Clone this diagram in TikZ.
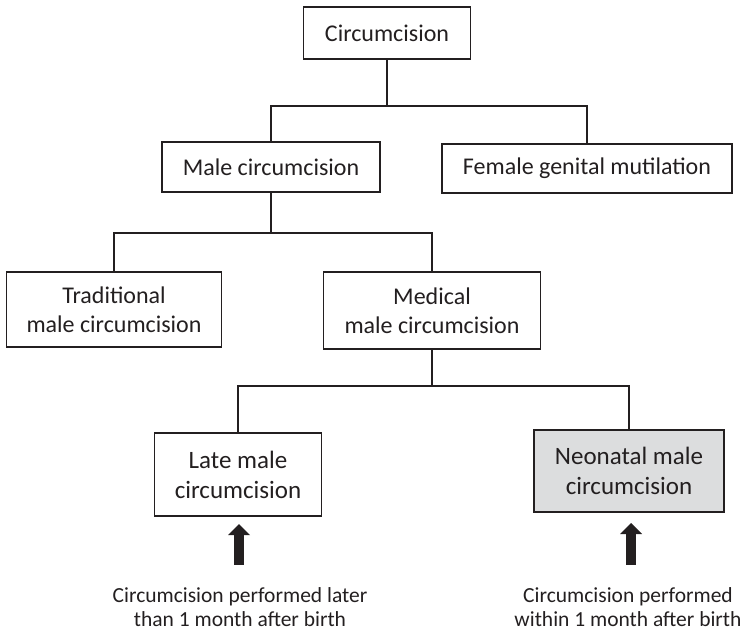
\documentclass[tikz,border=0pt]{standalone}
\usepackage{fontspec}
\setmainfont{Carlito}
\definecolor{ink}{HTML}{231F20}
\definecolor{boxgray}{HTML}{DCDDDE}
\begin{document}
\begin{tikzpicture}[x=1pt,y=-1pt,
  box/.style={draw=ink,line width=1.4pt,text=ink,align=center,inner sep=0pt,
    font=\fontsize{24}{29}\selectfont},
  bigbox/.style={box,font=\fontsize{25}{30}\selectfont},
  note/.style={text=ink,align=center,inner sep=0pt,font=\fontsize{21.5}{24}\selectfont},
  link/.style={draw=ink,line width=1.4pt}]
\useasboundingbox (0,0) rectangle (744,632);
\node[box,minimum width=167pt,minimum height=52pt] (top) at (387,33) {Circumcision};
\node[box,minimum width=218pt,minimum height=50pt] (male) at (271,167) {Male circumcision};
\node[box,minimum width=290pt,minimum height=49pt] (female) at (587,168.5) {Female genital mutilation};
\node[box,minimum width=215pt,minimum height=75pt] (trad) at (114,309.5) {Traditional\\male circumcision};
\node[box,minimum width=217pt,minimum height=77pt] (med) at (432,310.5) {Medical\\male circumcision};
\node[bigbox,minimum width=167pt,minimum height=83pt] (late) at (238,474.5) {Late male\\circumcision};
\node[bigbox,fill=boxgray,minimum width=190pt,minimum height=82pt] (neo) at (629,471) {Neonatal male\\circumcision};
\node[note] (lnote) at (240,607) {Circumcision performed later\\than 1 month after birth};
\node[note] (rnote) at (628,607) {Circumcision performed\\within 1 month after birth};
\coordinate (j1) at (387,106);
\coordinate (j2) at (271,233);
\coordinate (j3) at (432,386);
\draw[link] (top.south) -- (j1);
\draw[link] (male.north) |- (j1) -| (female.north);
\draw[link] (male.south) -- (j2);
\draw[link] (trad.north) |- (j2) -| (med.north);
\draw[link] (med.south) -- (j3);
\draw[link] (late.north) |- (j3) -| (neo.north);
\coordinate (a1b) at (239,565);
\coordinate (a1t) at (239,524);
\coordinate (a2b) at (631,565);
\coordinate (a2t) at (631,523);
\fill[ink] (a1b) ++(-5,0) rectangle ++(10,-32);
\fill[ink] (a1t) -- ++(11,11) -- ++(-22,0) -- cycle;
\fill[ink] (a2b) ++(-5,0) rectangle ++(10,-32);
\fill[ink] (a2t) -- ++(11,11) -- ++(-22,0) -- cycle;
\end{tikzpicture}
\end{document}
